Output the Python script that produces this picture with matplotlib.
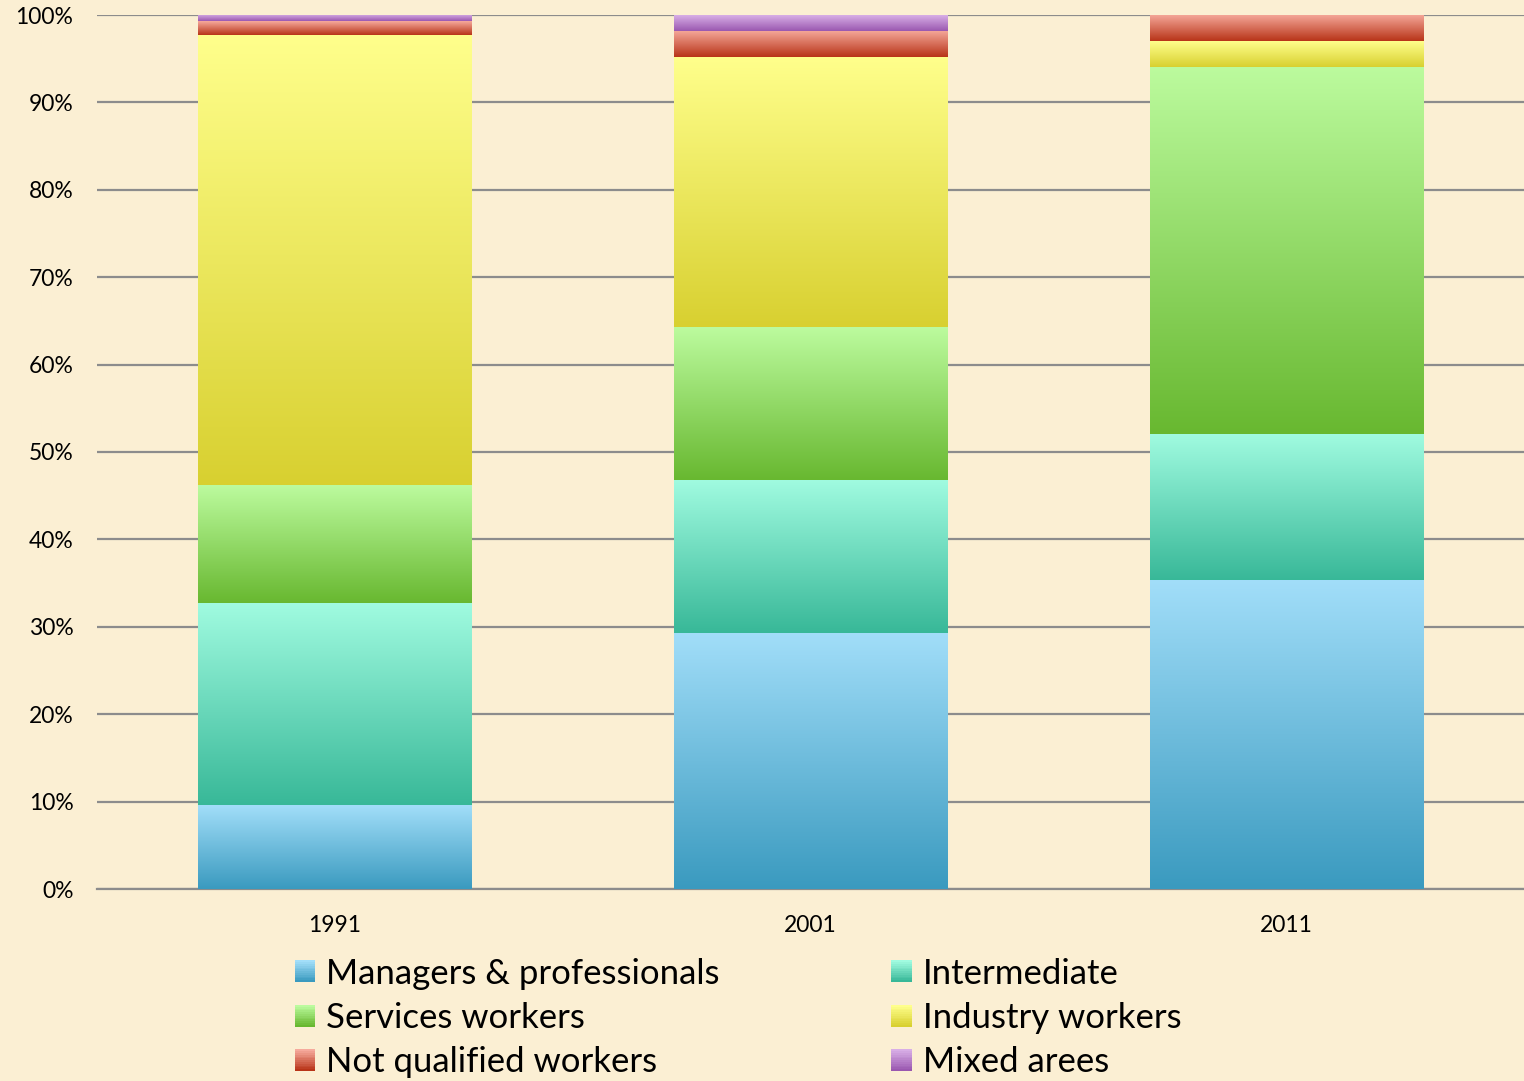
import matplotlib
matplotlib.use("Agg")
import matplotlib.pyplot as plt
import numpy as np
from matplotlib.colors import LinearSegmentedColormap, to_rgb
from matplotlib.legend_handler import HandlerBase
from matplotlib.patches import Rectangle, Patch

plt.rcParams['font.family'] = ['Lato', 'DejaVu Sans']

years = ["1991", "2001", "2011"]
groups = ["Managers & professionals", "Intermediate", "Services workers",
          "Industry workers", "Not qualified workers", "Mixed arees"]

managers = [9.6, 29.3, 35.4]
intermediate = [23.1, 17.5, 16.7]
services = [13.5, 17.5, 42.0]
industry = [51.5, 30.9, 2.9]
not_qualified = [1.6, 3.0, 3.0]
mixed = [0.7, 1.8, 0.0]

# (light top, dark bottom)
colors = [("#a2def9", "#3a9abf"),
          ("#a0fbe0", "#38b898"),
          ("#bcfb9e", "#68b830"),
          ("#ffff8c", "#d8d030"),
          ("#f6aa9c", "#b83418"),
          ("#d8aee6", "#9a58b0")]

BG = "#fbefd3"


class GradientHandler(HandlerBase):
	def __init__(self, light, dark, steps=12):
		super().__init__()
		self.light = np.array(to_rgb(light))
		self.dark = np.array(to_rgb(dark))
		self.steps = steps

	def create_artists(self, legend, orig_handle, xdescent, ydescent, width, height, fontsize, trans):
		arts = []
		h = height / self.steps
		for i in range(self.steps):
			t = i / (self.steps - 1)
			c = self.dark * (1 - t) + self.light * t
			r = Rectangle((-xdescent, -ydescent + i * h), width, h * 1.05, facecolor=c,
			              edgecolor='none', transform=trans)
			arts.append(r)
		return arts


fig = plt.figure(figsize=(15.24, 10.81), dpi=100, facecolor=BG)
ax = fig.add_axes([97 / 1524, 1 - 889 / 1081, 1 - 97 / 1524, (889 - 15) / 1081])
ax.set_facecolor(BG)

x = np.arange(len(years))
bottom = np.zeros(len(years))
series = [managers, intermediate, services, industry, not_qualified, mixed]
grad = np.linspace(0, 1, 256).reshape(-1, 1)
for vals, (light, dark), name in zip(series, colors, groups):
	bars = ax.bar(x, vals, width=0.574, bottom=bottom, color='none', edgecolor='none', zorder=3)
	cmap = LinearSegmentedColormap.from_list(name, [dark, light])
	for b in bars:
		if b.get_height() <= 0:
			continue
		x0, y0 = b.get_x(), b.get_y()
		ax.imshow(grad, extent=[x0, x0 + b.get_width(), y0, y0 + b.get_height()],
		          origin='lower', aspect='auto', cmap=cmap, zorder=3, interpolation='bilinear')
	bottom += np.array(vals)

ax.set_xlim(-0.5, 2.5)
ax.set_ylim(0, 100)
ax.set_xticks(x)
ax.set_xticklabels(years)
ax.set_yticks(np.arange(0, 101, 10))
ax.set_yticklabels([f"{v}%" for v in range(0, 101, 10)])
ax.tick_params(axis='both', length=0, labelsize=16.5, colors='black')
ax.tick_params(axis='y', pad=17)
ax.tick_params(axis='x', pad=18.5)
ax.yaxis.grid(True, color="#8c8c8c", linewidth=1.6, zorder=0)
ax.set_axisbelow(True)
for s in ['top', 'right', 'left']:
	ax.spines[s].set_visible(False)
ax.spines['bottom'].set_color("#8c8c8c")
ax.spines['bottom'].set_linewidth(1.6)

handles = [Patch(label=g) for g in groups]
hmap = {h: GradientHandler(c[0], c[1]) for h, c in zip(handles, colors)}
order = [0, 2, 4, 1, 3, 5]
leg = fig.legend([handles[i] for i in order], [groups[i] for i in order],
                 handler_map=hmap, ncol=2, loc='center',
                 bbox_to_anchor=(738 / 1524, 1 - 1018 / 1081), frameon=False,
                 fontsize=25, handlelength=0.58, handleheight=0.58,
                 handletextpad=0.32, columnspacing=4.95, labelspacing=0.36)

fig.savefig("out.png", dpi=100, facecolor=BG)
